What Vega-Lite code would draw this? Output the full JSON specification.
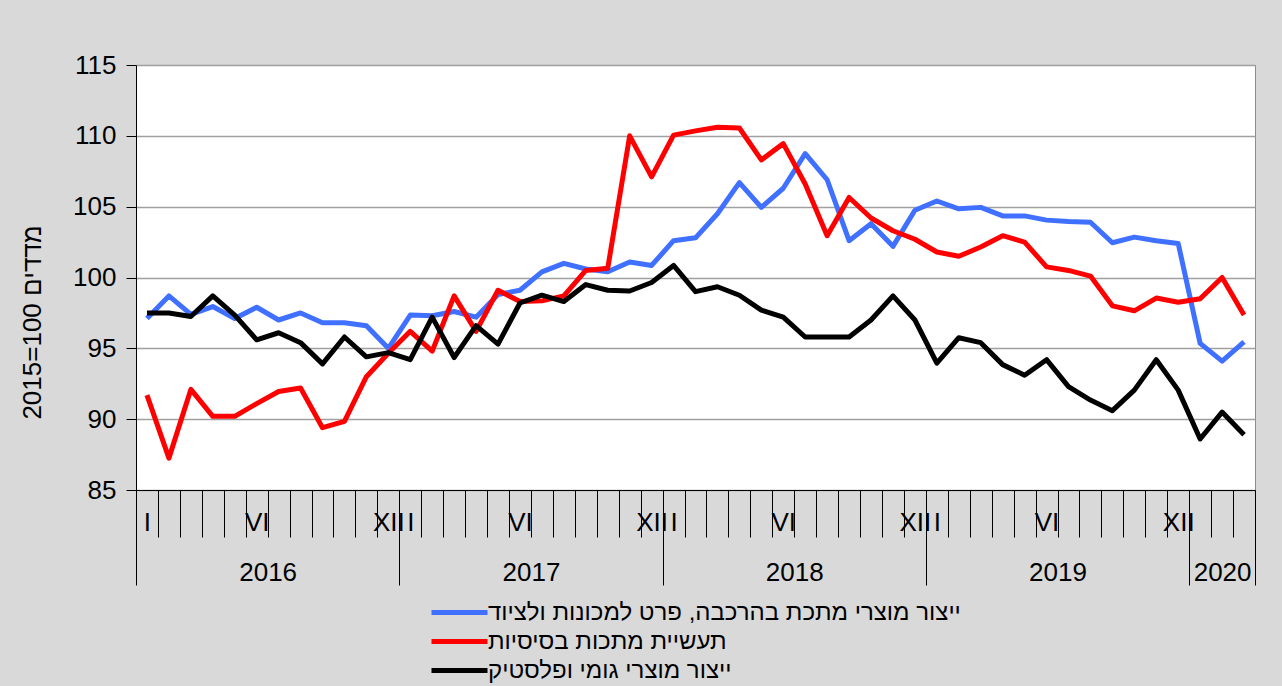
{
  "$schema": "https://vega.github.io/schema/vega-lite/v6.json",
  "width": 1119,
  "height": 425,
  "autosize": "none",
  "padding": {"left": 136, "top": 65, "right": 27, "bottom": 196},
  "background": "#d9d9d9",
  "config": {
    "font": "Liberation Sans",
    "view": {"fill": "white", "stroke": "#8c8c8c", "strokeWidth": 1},
    "axis": {"labelColor": "black", "titleColor": "black", "tickColor": "black", "domainColor": "black", "labelFont": "Liberation Sans", "titleFont": "Liberation Sans"}
  },
  "datasets": {
    "d": [
      {"n":1,"s":"ייצור מוצרי מתכת בהרכבה, פרט למכונות ולציוד","v":97.1},
      {"n":2,"s":"ייצור מוצרי מתכת בהרכבה, פרט למכונות ולציוד","v":98.7},
      {"n":3,"s":"ייצור מוצרי מתכת בהרכבה, פרט למכונות ולציוד","v":97.4},
      {"n":4,"s":"ייצור מוצרי מתכת בהרכבה, פרט למכונות ולציוד","v":97.95},
      {"n":5,"s":"ייצור מוצרי מתכת בהרכבה, פרט למכונות ולציוד","v":97.1},
      {"n":6,"s":"ייצור מוצרי מתכת בהרכבה, פרט למכונות ולציוד","v":97.9},
      {"n":7,"s":"ייצור מוצרי מתכת בהרכבה, פרט למכונות ולציוד","v":97.0},
      {"n":8,"s":"ייצור מוצרי מתכת בהרכבה, פרט למכונות ולציוד","v":97.5},
      {"n":9,"s":"ייצור מוצרי מתכת בהרכבה, פרט למכונות ולציוד","v":96.8},
      {"n":10,"s":"ייצור מוצרי מתכת בהרכבה, פרט למכונות ולציוד","v":96.8},
      {"n":11,"s":"ייצור מוצרי מתכת בהרכבה, פרט למכונות ולציוד","v":96.6},
      {"n":12,"s":"ייצור מוצרי מתכת בהרכבה, פרט למכונות ולציוד","v":95.0},
      {"n":13,"s":"ייצור מוצרי מתכת בהרכבה, פרט למכונות ולציוד","v":97.35},
      {"n":14,"s":"ייצור מוצרי מתכת בהרכבה, פרט למכונות ולציוד","v":97.3},
      {"n":15,"s":"ייצור מוצרי מתכת בהרכבה, פרט למכונות ולציוד","v":97.6},
      {"n":16,"s":"ייצור מוצרי מתכת בהרכבה, פרט למכונות ולציוד","v":97.2},
      {"n":17,"s":"ייצור מוצרי מתכת בהרכבה, פרט למכונות ולציוד","v":98.8},
      {"n":18,"s":"ייצור מוצרי מתכת בהרכבה, פרט למכונות ולציוד","v":99.1},
      {"n":19,"s":"ייצור מוצרי מתכת בהרכבה, פרט למכונות ולציוד","v":100.4},
      {"n":20,"s":"ייצור מוצרי מתכת בהרכבה, פרט למכונות ולציוד","v":101.0},
      {"n":21,"s":"ייצור מוצרי מתכת בהרכבה, פרט למכונות ולציוד","v":100.6},
      {"n":22,"s":"ייצור מוצרי מתכת בהרכבה, פרט למכונות ולציוד","v":100.4},
      {"n":23,"s":"ייצור מוצרי מתכת בהרכבה, פרט למכונות ולציוד","v":101.1},
      {"n":24,"s":"ייצור מוצרי מתכת בהרכבה, פרט למכונות ולציוד","v":100.85},
      {"n":25,"s":"ייצור מוצרי מתכת בהרכבה, פרט למכונות ולציוד","v":102.6},
      {"n":26,"s":"ייצור מוצרי מתכת בהרכבה, פרט למכונות ולציוד","v":102.8},
      {"n":27,"s":"ייצור מוצרי מתכת בהרכבה, פרט למכונות ולציוד","v":104.5},
      {"n":28,"s":"ייצור מוצרי מתכת בהרכבה, פרט למכונות ולציוד","v":106.7},
      {"n":29,"s":"ייצור מוצרי מתכת בהרכבה, פרט למכונות ולציוד","v":104.95},
      {"n":30,"s":"ייצור מוצרי מתכת בהרכבה, פרט למכונות ולציוד","v":106.3},
      {"n":31,"s":"ייצור מוצרי מתכת בהרכבה, פרט למכונות ולציוד","v":108.75},
      {"n":32,"s":"ייצור מוצרי מתכת בהרכבה, פרט למכונות ולציוד","v":106.9},
      {"n":33,"s":"ייצור מוצרי מתכת בהרכבה, פרט למכונות ולציוד","v":102.6},
      {"n":34,"s":"ייצור מוצרי מתכת בהרכבה, פרט למכונות ולציוד","v":103.8},
      {"n":35,"s":"ייצור מוצרי מתכת בהרכבה, פרט למכונות ולציוד","v":102.2},
      {"n":36,"s":"ייצור מוצרי מתכת בהרכבה, פרט למכונות ולציוד","v":104.75},
      {"n":37,"s":"ייצור מוצרי מתכת בהרכבה, פרט למכונות ולציוד","v":105.4},
      {"n":38,"s":"ייצור מוצרי מתכת בהרכבה, פרט למכונות ולציוד","v":104.85},
      {"n":39,"s":"ייצור מוצרי מתכת בהרכבה, פרט למכונות ולציוד","v":104.95},
      {"n":40,"s":"ייצור מוצרי מתכת בהרכבה, פרט למכונות ולציוד","v":104.35},
      {"n":41,"s":"ייצור מוצרי מתכת בהרכבה, פרט למכונות ולציוד","v":104.35},
      {"n":42,"s":"ייצור מוצרי מתכת בהרכבה, פרט למכונות ולציוד","v":104.05},
      {"n":43,"s":"ייצור מוצרי מתכת בהרכבה, פרט למכונות ולציוד","v":103.95},
      {"n":44,"s":"ייצור מוצרי מתכת בהרכבה, פרט למכונות ולציוד","v":103.9},
      {"n":45,"s":"ייצור מוצרי מתכת בהרכבה, פרט למכונות ולציוד","v":102.45},
      {"n":46,"s":"ייצור מוצרי מתכת בהרכבה, פרט למכונות ולציוד","v":102.85},
      {"n":47,"s":"ייצור מוצרי מתכת בהרכבה, פרט למכונות ולציוד","v":102.6},
      {"n":48,"s":"ייצור מוצרי מתכת בהרכבה, פרט למכונות ולציוד","v":102.4},
      {"n":49,"s":"ייצור מוצרי מתכת בהרכבה, פרט למכונות ולציוד","v":95.35},
      {"n":50,"s":"ייצור מוצרי מתכת בהרכבה, פרט למכונות ולציוד","v":94.1},
      {"n":51,"s":"ייצור מוצרי מתכת בהרכבה, פרט למכונות ולציוד","v":95.45},
      {"n":1,"s":"תעשיית מתכות בסיסיות","v":91.7},
      {"n":2,"s":"תעשיית מתכות בסיסיות","v":87.25},
      {"n":3,"s":"תעשיית מתכות בסיסיות","v":92.1},
      {"n":4,"s":"תעשיית מתכות בסיסיות","v":90.2},
      {"n":5,"s":"תעשיית מתכות בסיסיות","v":90.2},
      {"n":6,"s":"תעשיית מתכות בסיסיות","v":91.1},
      {"n":7,"s":"תעשיית מתכות בסיסיות","v":91.95},
      {"n":8,"s":"תעשיית מתכות בסיסיות","v":92.2},
      {"n":9,"s":"תעשיית מתכות בסיסיות","v":89.4},
      {"n":10,"s":"תעשיית מתכות בסיסיות","v":89.85},
      {"n":11,"s":"תעשיית מתכות בסיסיות","v":93.0},
      {"n":12,"s":"תעשיית מתכות בסיסיות","v":94.65},
      {"n":13,"s":"תעשיית מתכות בסיסיות","v":96.2},
      {"n":14,"s":"תעשיית מתכות בסיסיות","v":94.8},
      {"n":15,"s":"תעשיית מתכות בסיסיות","v":98.7},
      {"n":16,"s":"תעשיית מתכות בסיסיות","v":96.2},
      {"n":17,"s":"תעשיית מתכות בסיסיות","v":99.1},
      {"n":18,"s":"תעשיית מתכות בסיסיות","v":98.3},
      {"n":19,"s":"תעשיית מתכות בסיסיות","v":98.35},
      {"n":20,"s":"תעשיית מתכות בסיסיות","v":98.7},
      {"n":21,"s":"תעשיית מתכות בסיסיות","v":100.5},
      {"n":22,"s":"תעשיית מתכות בסיסיות","v":100.65},
      {"n":23,"s":"תעשיית מתכות בסיסיות","v":110.0},
      {"n":24,"s":"תעשיית מתכות בסיסיות","v":107.1},
      {"n":25,"s":"תעשיית מתכות בסיסיות","v":110.05},
      {"n":26,"s":"תעשיית מתכות בסיסיות","v":110.35},
      {"n":27,"s":"תעשיית מתכות בסיסיות","v":110.6},
      {"n":28,"s":"תעשיית מתכות בסיסיות","v":110.55},
      {"n":29,"s":"תעשיית מתכות בסיסיות","v":108.3},
      {"n":30,"s":"תעשיית מתכות בסיסיות","v":109.45},
      {"n":31,"s":"תעשיית מתכות בסיסיות","v":106.6},
      {"n":32,"s":"תעשיית מתכות בסיסיות","v":102.95},
      {"n":33,"s":"תעשיית מתכות בסיסיות","v":105.65},
      {"n":34,"s":"תעשיית מתכות בסיסיות","v":104.2},
      {"n":35,"s":"תעשיית מתכות בסיסיות","v":103.3},
      {"n":36,"s":"תעשיית מתכות בסיסיות","v":102.7},
      {"n":37,"s":"תעשיית מתכות בסיסיות","v":101.8},
      {"n":38,"s":"תעשיית מתכות בסיסיות","v":101.5},
      {"n":39,"s":"תעשיית מתכות בסיסיות","v":102.15},
      {"n":40,"s":"תעשיית מתכות בסיסיות","v":102.95},
      {"n":41,"s":"תעשיית מתכות בסיסיות","v":102.5},
      {"n":42,"s":"תעשיית מתכות בסיסיות","v":100.75},
      {"n":43,"s":"תעשיית מתכות בסיסיות","v":100.5},
      {"n":44,"s":"תעשיית מתכות בסיסיות","v":100.1},
      {"n":45,"s":"תעשיית מתכות בסיסיות","v":98.0},
      {"n":46,"s":"תעשיית מתכות בסיסיות","v":97.65},
      {"n":47,"s":"תעשיית מתכות בסיסיות","v":98.55},
      {"n":48,"s":"תעשיית מתכות בסיסיות","v":98.25},
      {"n":49,"s":"תעשיית מתכות בסיסיות","v":98.5},
      {"n":50,"s":"תעשיית מתכות בסיסיות","v":100.0},
      {"n":51,"s":"תעשיית מתכות בסיסיות","v":97.35},
      {"n":1,"s":"ייצור מוצרי גומי ופלסטיק","v":97.5},
      {"n":2,"s":"ייצור מוצרי גומי ופלסטיק","v":97.5},
      {"n":3,"s":"ייצור מוצרי גומי ופלסטיק","v":97.25},
      {"n":4,"s":"ייצור מוצרי גומי ופלסטיק","v":98.7},
      {"n":5,"s":"ייצור מוצרי גומי ופלסטיק","v":97.35},
      {"n":6,"s":"ייצור מוצרי גומי ופלסטיק","v":95.6},
      {"n":7,"s":"ייצור מוצרי גומי ופלסטיק","v":96.1},
      {"n":8,"s":"ייצור מוצרי גומי ופלסטיק","v":95.4},
      {"n":9,"s":"ייצור מוצרי גומי ופלסטיק","v":93.9},
      {"n":10,"s":"ייצור מוצרי גומי ופלסטיק","v":95.8},
      {"n":11,"s":"ייצור מוצרי גומי ופלסטיק","v":94.4},
      {"n":12,"s":"ייצור מוצרי גומי ופלסטיק","v":94.7},
      {"n":13,"s":"ייצור מוצרי גומי ופלסטיק","v":94.2},
      {"n":14,"s":"ייצור מוצרי גומי ופלסטיק","v":97.2},
      {"n":15,"s":"ייצור מוצרי גומי ופלסטיק","v":94.35},
      {"n":16,"s":"ייצור מוצרי גומי ופלסטיק","v":96.6},
      {"n":17,"s":"ייצור מוצרי גומי ופלסטיק","v":95.3},
      {"n":18,"s":"ייצור מוצרי גומי ופלסטיק","v":98.2},
      {"n":19,"s":"ייצור מוצרי גומי ופלסטיק","v":98.75},
      {"n":20,"s":"ייצור מוצרי גומי ופלסטיק","v":98.3},
      {"n":21,"s":"ייצור מוצרי גומי ופלסטיק","v":99.5},
      {"n":22,"s":"ייצור מוצרי גומי ופלסטיק","v":99.1},
      {"n":23,"s":"ייצור מוצרי גומי ופלסטיק","v":99.05},
      {"n":24,"s":"ייצור מוצרי גומי ופלסטיק","v":99.65},
      {"n":25,"s":"ייצור מוצרי גומי ופלסטיק","v":100.85},
      {"n":26,"s":"ייצור מוצרי גומי ופלסטיק","v":99.0},
      {"n":27,"s":"ייצור מוצרי גומי ופלסטיק","v":99.35},
      {"n":28,"s":"ייצור מוצרי גומי ופלסטיק","v":98.75},
      {"n":29,"s":"ייצור מוצרי גומי ופלסטיק","v":97.7},
      {"n":30,"s":"ייצור מוצרי גומי ופלסטיק","v":97.2},
      {"n":31,"s":"ייצור מוצרי גומי ופלסטיק","v":95.8},
      {"n":32,"s":"ייצור מוצרי גומי ופלסטיק","v":95.8},
      {"n":33,"s":"ייצור מוצרי גומי ופלסטיק","v":95.8},
      {"n":34,"s":"ייצור מוצרי גומי ופלסטיק","v":97.0},
      {"n":35,"s":"ייצור מוצרי גומי ופלסטיק","v":98.7},
      {"n":36,"s":"ייצור מוצרי גומי ופלסטיק","v":97.0},
      {"n":37,"s":"ייצור מוצרי גומי ופלסטיק","v":93.95},
      {"n":38,"s":"ייצור מוצרי גומי ופלסטיק","v":95.75},
      {"n":39,"s":"ייצור מוצרי גומי ופלסטיק","v":95.4},
      {"n":40,"s":"ייצור מוצרי גומי ופלסטיק","v":93.85},
      {"n":41,"s":"ייצור מוצרי גומי ופלסטיק","v":93.1},
      {"n":42,"s":"ייצור מוצרי גומי ופלסטיק","v":94.2},
      {"n":43,"s":"ייצור מוצרי גומי ופלסטיק","v":92.3},
      {"n":44,"s":"ייצור מוצרי גומי ופלסטיק","v":91.35},
      {"n":45,"s":"ייצור מוצרי גומי ופלסטיק","v":90.6},
      {"n":46,"s":"ייצור מוצרי גומי ופלסטיק","v":92.05},
      {"n":47,"s":"ייצור מוצרי גומי ופלסטיק","v":94.2},
      {"n":48,"s":"ייצור מוצרי גומי ופלסטיק","v":92.05},
      {"n":49,"s":"ייצור מוצרי גומי ופלסטיק","v":88.6},
      {"n":50,"s":"ייצור מוצרי גומי ופלסטיק","v":90.5},
      {"n":51,"s":"ייצור מוצרי גומי ופלסטיק","v":88.9}
    ]
  },
  "data": {"name": "d"},
  "layer": [
    {
      "mark": {"type": "line", "strokeWidth": 5, "strokeJoin": "round"},
      "encoding": {
        "x": {"field": "n", "type": "quantitative", "scale": {"domain": [0.5, 51.5], "nice": false, "zero": false},
          "axis": {"orient": "bottom", "title": null, "labels": false, "grid": false, "tickSize": 47, "tickWidth": 1,
            "values": [0.5,1.5,2.5,3.5,4.5,5.5,6.5,7.5,8.5,9.5,10.5,11.5,12.5,13.5,14.5,15.5,16.5,17.5,18.5,19.5,20.5,21.5,22.5,23.5,24.5,25.5,26.5,27.5,28.5,29.5,30.5,31.5,32.5,33.5,34.5,35.5,36.5,37.5,38.5,39.5,40.5,41.5,42.5,43.5,44.5,45.5,46.5,47.5,48.5,49.5,50.5,51.5]}},
        "y": {"field": "v", "type": "quantitative", "scale": {"domain": [85, 115], "nice": false, "zero": false},
          "axis": {"values": [85,90,95,100,105,110,115], "tickSize": 10, "labelFontSize": 26, "labelPadding": 10,
            "gridColor": "#a0a0a0", "gridWidth": 1.5, "title": "2015=100 מדדים", "titleFontSize": 26, "titleFontWeight": "normal",
            "titleAngle": -90, "titleAlign": "center", "titleBaseline": "middle", "titleX": -104, "titleY": 257}},
        "color": {"field": "s", "type": "nominal",
          "scale": {"domain": ["ייצור מוצרי מתכת בהרכבה, פרט למכונות ולציוד", "תעשיית מתכות בסיסיות", "ייצור מוצרי גומי ופלסטיק"], "range": ["#4070ff", "#ff0000", "#000000"]},
          "legend": {"orient": "none", "legendX": 293, "legendY": 531, "direction": "vertical", "title": null, "symbolType": "M-2,0H2", "symbolSize": 784, "symbolStrokeWidth": 5, "symbolOffset": 14, "labelFontSize": 24, "labelColor": "black", "labelLimit": 800, "labelOffset": 12, "rowPadding": 0}}
      }
    },
    {
      "mark": {"type": "point", "opacity": 0},
      "encoding": {
        "x": {"field": "n", "type": "quantitative",
          "axis": {"orient": "bottom", "title": null, "ticks": false, "tickSize": 0, "domain": false, "grid": false, "labelFontSize": 26, "labelPadding": 32, "labelBaseline": "middle", "labelFlush": false, "labelOverlap": false,
            "values": [1,6,12,13,18,24,25,30,36,37,42,48],
            "labelExpr": "datum.value % 12 == 1 ? 'I' : (datum.value % 12 == 6 ? 'VI' : 'XII')"}}
      }
    },
    {
      "mark": {"type": "point", "opacity": 0},
      "encoding": {
        "x": {"field": "n", "type": "quantitative",
          "axis": {"orient": "bottom", "title": null, "labels": false, "domain": false, "grid": false, "tickSize": 95, "tickWidth": 1,
            "values": [0.5, 12.5, 24.5, 36.5, 48.5, 51.5]}}
      }
    },
    {
      "mark": {"type": "point", "opacity": 0},
      "encoding": {
        "x": {"field": "n", "type": "quantitative",
          "axis": {"orient": "bottom", "title": null, "ticks": false, "tickSize": 0, "domain": false, "grid": false, "labelFontSize": 26, "labelPadding": 82, "labelBaseline": "middle", "labelFlush": false, "labelOverlap": false,
            "values": [6.5, 18.5, 30.5, 42.5, 50],
            "labelExpr": "datum.value == 6.5 ? '2016' : datum.value == 18.5 ? '2017' : datum.value == 30.5 ? '2018' : datum.value == 42.5 ? '2019' : '2020'"}}
      }
    }
  ],
  "resolve": {"axis": {"x": "independent"}}
}
